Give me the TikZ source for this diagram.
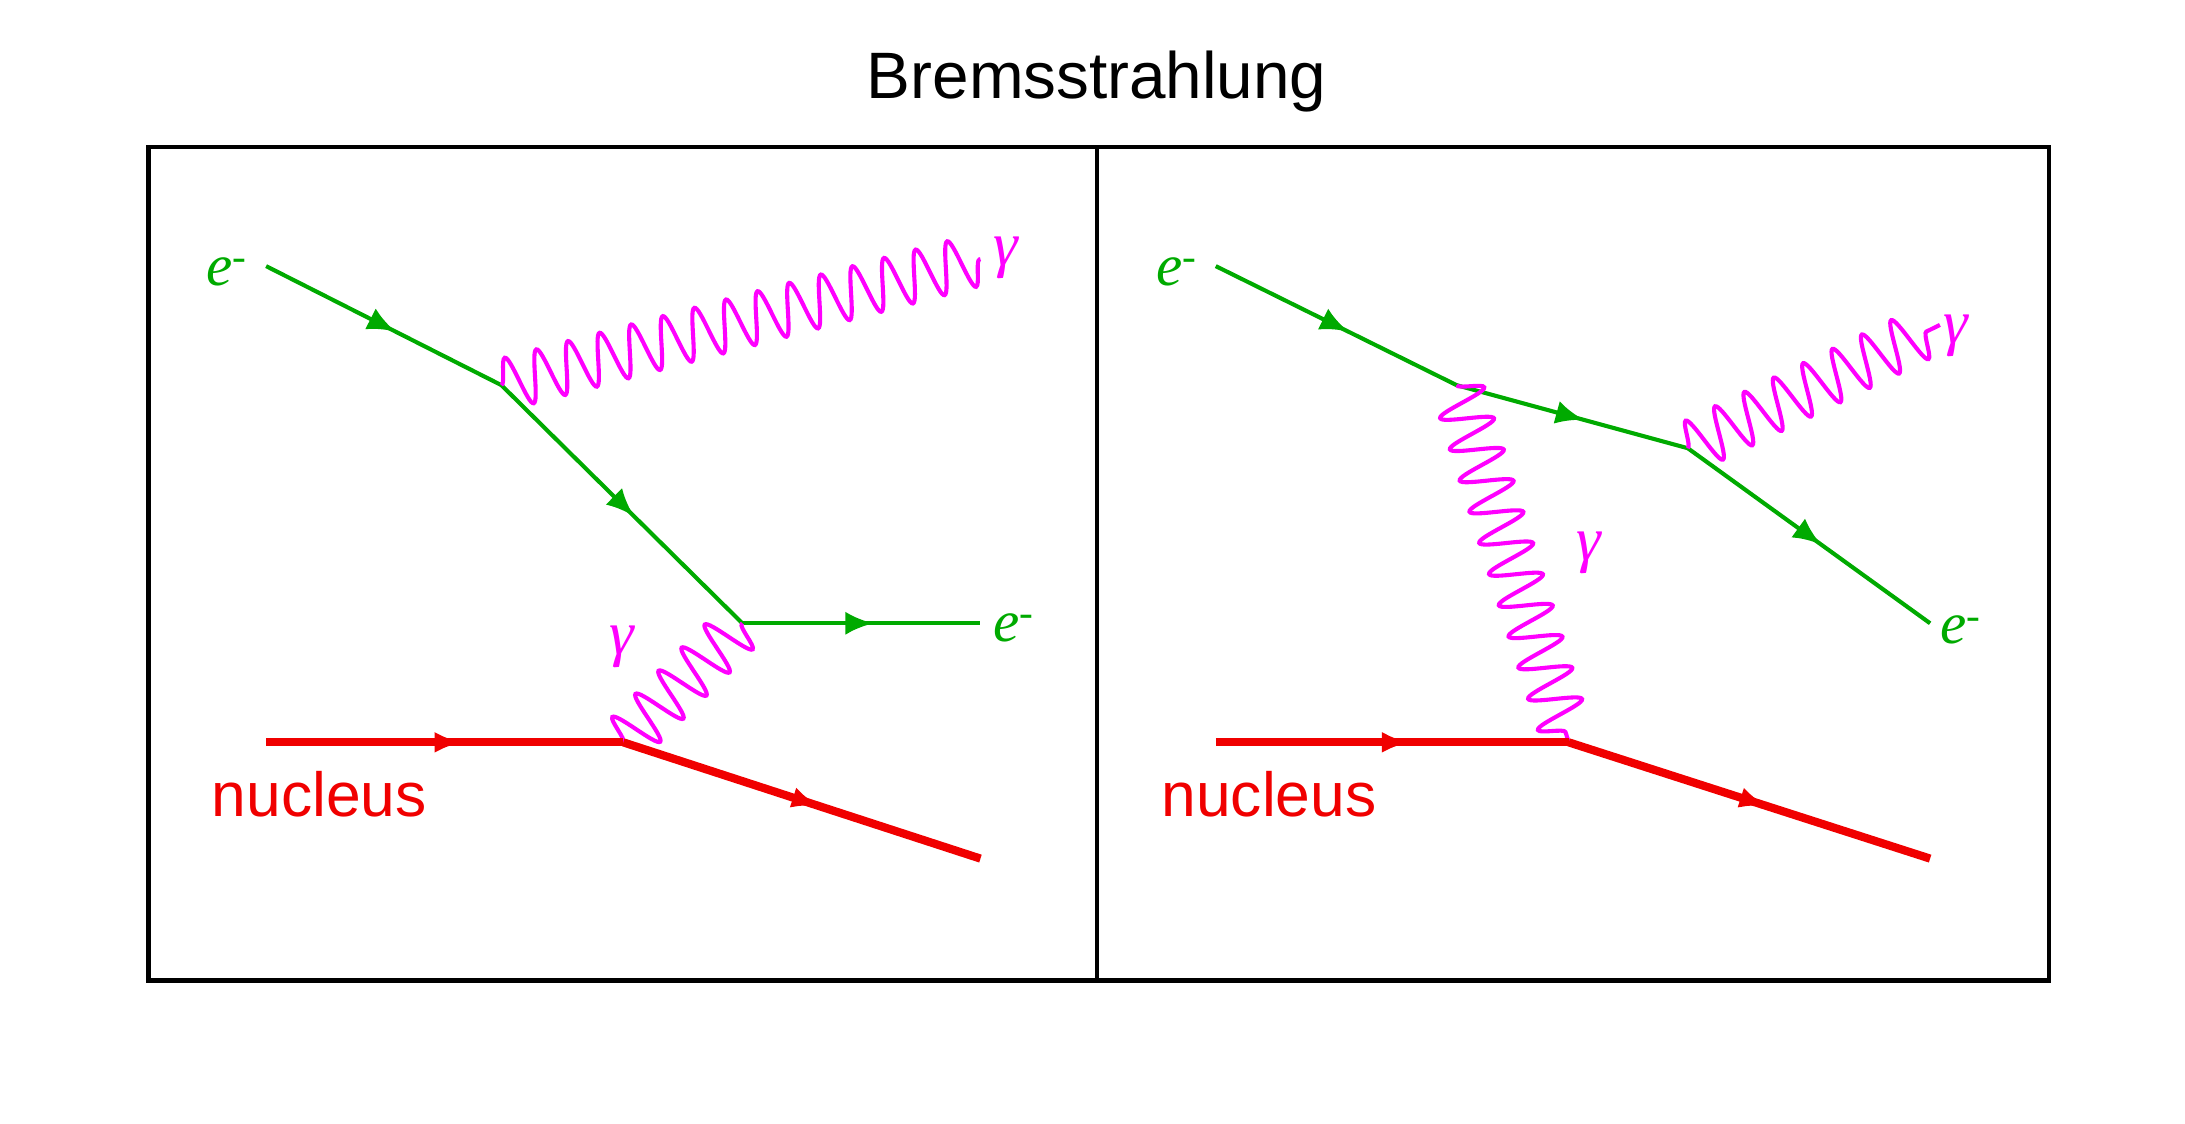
\documentclass[tikz,border=0pt]{standalone}
\usepackage{fontspec}
\setmainfont{Liberation Sans}
\newfontfamily\serifit{Liberation Serif}
\usetikzlibrary{decorations.pathmorphing,decorations.markings,arrows.meta}
\definecolor{elec}{RGB}{0,170,0}
\definecolor{phot}{RGB}{255,0,255}
\definecolor{nucl}{RGB}{240,0,0}

\begin{document}
\begin{tikzpicture}[
    x=0.3mm, y=-0.3mm,
    fermion/.style={elec, line width=2.5pt, postaction={decorate, decoration={markings, mark=at position 0.55 with {\arrow{Latex[length=6mm,width=5mm]}}}}},
    nucleon/.style={nucl, line width=5pt, postaction={decorate, decoration={markings, mark=at position 0.55 with {\arrow{Latex[length=6mm,width=4.5mm]}}}}},
    photon/.style={phot, line width=2.5pt, decorate, decoration={snake, amplitude=5.5mm, segment length=7mm}},
    frame/.style={line width=2.5pt},
    elabel/.style={elec, font=\fontsize{36}{42}\selectfont\serifit\itshape},
    glabel/.style={phot, font=\fontsize{38}{44}\selectfont\serifit\itshape},
    nlabel/.style={nucl, font=\fontsize{38}{46}\selectfont}
]
\useasboundingbox (0,0) rectangle (1560,802);

% Title and frames
\node[font=\fontsize{40}{48}\selectfont] (title) at (783,58) {Bremsstrahlung};
\draw[frame] (106,105) rectangle (1463,700);
\draw[frame] (783,105) -- (783,700);

% Left panel
\coordinate (ein) at (190,190);
\coordinate (va) at (358,275);
\coordinate (vb) at (530,445);
\coordinate (eout) at (700,445);
\coordinate (gout) at (700,185);
\coordinate (nin) at (190,530);
\coordinate (vn) at (445,530);
\coordinate (nout) at (700,613);
\draw[fermion] (ein) -- (va);
\draw[fermion] (va) -- (vb);
\draw[fermion] (vb) -- (eout);
\draw[photon] (va) -- (gout);
\draw[photon] (vn) -- (vb);
\draw[nucleon] (nin) -- (vn);
\draw[nucleon] (vn) -- (nout);
\node[elabel] (le1) at (162,194) {e\textsuperscript{-}};
\node[elabel] (le2) at (724,448) {e\textsuperscript{-}};
\node[glabel] (lg1) at (718,184) {γ};
\node[glabel] (lg2) at (444,462) {γ};
\node[nlabel] (ln1) at (228,567) {nucleus};

% Right panel
\coordinate (ein2) at (868,190);
\coordinate (vc) at (1040,275);
\coordinate (vd) at (1205,320);
\coordinate (eout2) at (1378,445);
\coordinate (gout2) at (1385,232);
\coordinate (nin2) at (868,530);
\coordinate (vn2) at (1120,530);
\coordinate (nout2) at (1378,613);
\draw[fermion] (ein2) -- (vc);
\draw[fermion] (vc) -- (vd);
\draw[fermion] (vd) -- (eout2);
\draw[photon] (vd) -- (gout2);
\draw[photon] (vc) -- (vn2);
\draw[nucleon] (nin2) -- (vn2);
\draw[nucleon] (vn2) -- (nout2);
\node[elabel] (le3) at (840,194) {e\textsuperscript{-}};
\node[elabel] (le4) at (1400,450) {e\textsuperscript{-}};
\node[glabel] (lg3) at (1396,240) {γ};
\node[glabel] (lg4) at (1134,395) {γ};
\node[nlabel] (ln2) at (906,567) {nucleus};
\end{tikzpicture}
\end{document}
